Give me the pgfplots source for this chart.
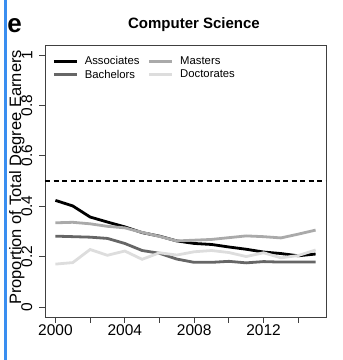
\documentclass[border=0pt]{standalone}
\usepackage{pgfplots}
\pgfplotsset{compat=1.18}
\usepackage{fontspec}
\setmainfont{Liberation Sans}
\definecolor{barblue}{HTML}{3A8EF0}
\definecolor{cBach}{HTML}{666666}
\definecolor{cMast}{HTML}{AAAAAA}
\definecolor{cDoct}{HTML}{DDDDDD}
\begin{document}
\begin{tikzpicture}[x=1bp,y=1bp]
\path[use as bounding box] (0,0) rectangle (343,360);
\fill[barblue] (4,0) rectangle (7.3,360);
\node[font=\fontsize{26bp}{30bp}\selectfont\bfseries, anchor=base, inner sep=0pt] at (14.5,328) {e};
\node[font=\fontsize{15bp}{18bp}\selectfont\bfseries, inner sep=0pt] at (194,335) {Computer Science};
\begin{axis}[
  at={(45bp,43bp)}, anchor=south west, scale only axis,
  width=281bp, height=272bp,
  xmin=1999.4, xmax=2015.6, ymin=-0.04, ymax=1.04,
  axis line style={black!75, line width=0.8bp},
  tick style={black!75, line width=0.8bp},
  tick align=outside, major tick length=6bp,
  xtick={2000,2002,2004,2006,2008,2010,2012,2014},
  xticklabels={2000,,2004,,2008,,2012,},
  ytick={0,0.2,0.4,0.6,0.8,1},
  yticklabels={0,0.2,0.4,0.6,0.8,1},
  xtick pos=bottom, ytick pos=left,
  tick label style={font=\fontsize{15.5bp}{18bp}\selectfont},
  xticklabel style={anchor=north, inner sep=0pt, yshift=-1bp},
  yticklabel style={xshift=-6.5bp, rotate=90, anchor=south, inner sep=0pt},
  every axis y label/.style={at={(axis description cs:-0.1,0.513)}, anchor=center, rotate=90, inner sep=0pt},
  ylabel={Proportion of Total Degree Earners},
  label style={font=\fontsize{16.5bp}{19bp}\selectfont},
  legend style={draw=none, fill=none, at={(axis description cs:0.026,0.963)}, anchor=north west,
    font=\fontsize{11.3bp}{12bp}\selectfont, inner sep=0pt, row sep=0.5bp,
    nodes={inner sep=1.5bp},
    /tikz/every odd column/.append style={column sep=5bp},
    /tikz/every even column/.append style={column sep=7bp}},
  legend columns=2, legend cell align=left,
  legend image code/.code={\draw[#1, line width=2.8bp] (0bp,0bp) -- (23bp,0bp);},
  clip=true,
]
\addplot[black, line width=2.8bp] coordinates {
(2000,0.423) (2001,0.401) (2002,0.357) (2003,0.337) (2004,0.318) (2005,0.295) (2006,0.281) (2007,0.262)
(2008,0.252) (2009,0.248) (2010,0.238) (2011,0.229) (2012,0.218) (2013,0.212) (2014,0.203) (2015,0.210)};
\addlegendentry{Associates}
\addplot[cMast, line width=2.8bp] coordinates {
(2000,0.334) (2001,0.336) (2002,0.330) (2003,0.320) (2004,0.314) (2005,0.296) (2006,0.280) (2007,0.262)
(2008,0.265) (2009,0.268) (2010,0.275) (2011,0.282) (2012,0.279) (2013,0.274) (2014,0.289) (2015,0.305)};
\addlegendentry{Masters}
\addplot[cBach, line width=2.8bp] coordinates {
(2000,0.281) (2001,0.279) (2002,0.277) (2003,0.272) (2004,0.252) (2005,0.224) (2006,0.213) (2007,0.190)
(2008,0.177) (2009,0.177) (2010,0.181) (2011,0.175) (2012,0.180) (2013,0.178) (2014,0.178) (2015,0.178)};
\addlegendentry{Bachelors}
\addplot[cDoct, line width=2.8bp] coordinates {
(2000,0.170) (2001,0.176) (2002,0.228) (2003,0.205) (2004,0.222) (2005,0.189) (2006,0.215) (2007,0.206)
(2008,0.219) (2009,0.224) (2010,0.216) (2011,0.200) (2012,0.215) (2013,0.195) (2014,0.204) (2015,0.226)};
\addlegendentry{Doctorates}
\addplot[black, line width=1.5bp, dash pattern=on 5bp off 3.5bp, forget plot] coordinates {(1999.4,0.5) (2015.6,0.5)};
\end{axis}
\end{tikzpicture}
\end{document}
